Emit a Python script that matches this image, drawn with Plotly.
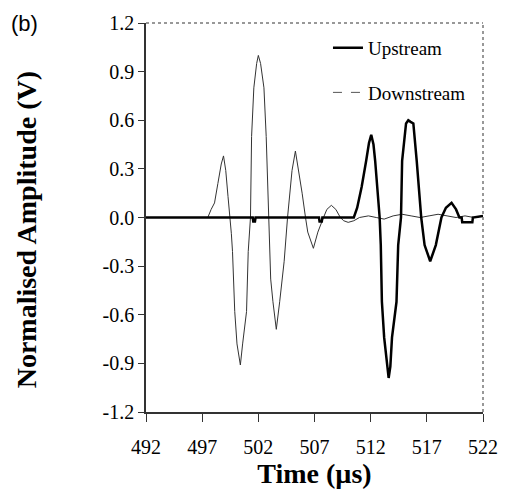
import plotly.graph_objects as go

# Downstream (thin line) : time (us), normalised amplitude (V)
down_t = [492.0, 497.0, 497.5, 497.8, 498.1, 498.4, 498.7, 498.9, 499.1, 499.3, 499.5, 499.6,
          499.7, 499.9, 500.1, 500.4, 500.6, 500.95, 501.1, 501.3, 501.4, 501.6, 501.85, 502.0,
          502.2, 502.5, 502.7, 502.9, 503.1, 503.3, 503.6, 503.9, 504.3, 504.6, 504.8, 505.0,
          505.3, 505.6, 505.9, 506.2, 506.4, 506.9, 507.3, 507.8, 508.1, 508.5, 508.9, 509.3,
          509.6, 510.0, 510.5, 511.0, 511.8, 512.5, 513.2, 514.0, 514.8, 515.6, 516.4, 517.2,
          518.0, 518.8, 519.6, 520.4, 521.2, 522.0]
down_v = [0.0, 0.0, 0.0, 0.05, 0.09, 0.21, 0.33, 0.38, 0.29, 0.13, 0.0, -0.10,
          -0.21, -0.58, -0.78, -0.91, -0.78, -0.58, -0.21, 0.0, 0.50, 0.80, 0.95, 1.00,
          0.95, 0.80, 0.50, 0.0, -0.38, -0.52, -0.69, -0.52, -0.27, 0.0, 0.15, 0.29,
          0.41, 0.29, 0.15, 0.0, -0.09, -0.19, -0.09, 0.0, 0.05, 0.075, 0.05, 0.0,
          -0.02, -0.03, -0.02, 0.0, 0.01, 0.0, -0.01, 0.01, 0.02, 0.01, 0.0, 0.01,
          0.02, 0.01, 0.0, 0.01, 0.0, 0.01]

# Upstream (thick line)
up_t = [492.0, 501.5, 501.55, 501.7, 501.75, 507.4, 507.45, 507.65, 507.7, 510.5, 510.8, 511.2,
        511.6, 511.85, 512.05, 512.25, 512.4, 512.6, 512.8, 512.9, 513.0, 513.2, 513.45, 513.6,
        513.75, 513.9, 514.3, 514.45, 514.7, 514.8, 515.15, 515.35, 515.55, 515.8, 516.1, 516.5,
        516.8, 517.3, 517.8, 518.3, 518.7, 519.2, 519.6, 519.9, 520.1, 520.15, 521.05, 521.1,
        522.0]
up_v = [0.0, 0.0, -0.025, -0.025, 0.0, 0.0, -0.025, -0.025, 0.0, 0.0, 0.06, 0.19,
        0.35, 0.46, 0.51, 0.45, 0.35, 0.19, 0.0, -0.17, -0.52, -0.74, -0.92, -0.99,
        -0.92, -0.74, -0.52, -0.17, 0.0, 0.35, 0.58, 0.60, 0.59, 0.58, 0.35, 0.0,
        -0.17, -0.27, -0.17, 0.0, 0.06, 0.09, 0.05, 0.0, 0.0, -0.03, -0.03, 0.0,
        0.01]

x_ticks = [492, 497, 502, 507, 512, 517, 522]
y_ticks = [-1.2, -0.9, -0.6, -0.3, 0.0, 0.3, 0.6, 0.9, 1.2]

SERIF = "Liberation Serif, Times New Roman, serif"
SANS = "Liberation Sans, Arial, sans-serif"

fig = go.Figure()
fig.add_trace(go.Scatter(x=down_t, y=down_v, mode="lines", line=dict(color="#333333", width=1),
                         showlegend=False, hoverinfo="skip"))
fig.add_trace(go.Scatter(x=up_t, y=up_v, mode="lines", name="Upstream",
                         line=dict(color="black", width=2.5), legendgroup="a"))
fig.add_trace(go.Scatter(x=[None], y=[None], mode="lines", name="Downstream",
                         line=dict(color="#555555", width=1, dash="dash"), legendgroup="b"))

axis_common = dict(showline=True, linecolor="#333333", linewidth=1.5, mirror=False,
                   ticks="outside", tickcolor="#333333", tickwidth=1,
                   showgrid=False, zeroline=False,
                   tickfont=dict(family=SERIF, size=20, color="black"))

fig.update_layout(
    width=510, height=499,
    margin=dict(l=146, r=26, t=18, b=87),
    paper_bgcolor="white", plot_bgcolor="white",
    xaxis=dict(range=[492, 522], tickvals=x_ticks, ticktext=[str(v) for v in x_ticks],
               ticklen=8, ticklabelstandoff=8,
               title=dict(text="<b>Time (\u00b5s)</b>",
                          font=dict(family=SERIF, size=28, color="black"), standoff=2),
               **axis_common),
    yaxis=dict(range=[-1.2, 1.2], tickvals=y_ticks, ticktext=[f"{v:.1f}" for v in y_ticks],
               ticklen=6, **axis_common),
    legend=dict(x=0.54, y=0.985, xanchor="left", yanchor="top", bgcolor="rgba(0,0,0,0)",
                font=dict(family=SERIF, size=19, color="black"), traceorder="grouped",
                tracegroupgap=17),
    shapes=[
        dict(type="line", xref="paper", yref="paper", x0=0, x1=1, y0=1, y1=1,
             line=dict(color="#777777", width=1.5, dash="dot")),
        dict(type="line", xref="paper", yref="paper", x0=1, x1=1, y0=0, y1=1,
             line=dict(color="#777777", width=1.5, dash="dot")),
    ],
    annotations=[
        dict(text="(b)", xref="paper", yref="paper", x=-0.408, y=1.0,
             xanchor="left", yanchor="middle", showarrow=False,
             font=dict(family=SANS, size=22, color="black")),
        dict(text="<b>Normalised Amplitude (V)</b>", xref="paper", yref="paper",
             x=-0.352, y=0.468, xanchor="center", yanchor="middle", textangle=-90,
             showarrow=False, font=dict(family=SERIF, size=28, color="black")),
    ],
)

fig.write_html("out.html")
